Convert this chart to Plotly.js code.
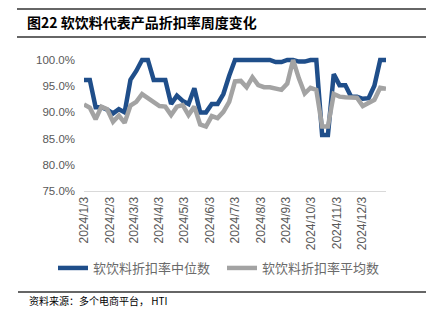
<!DOCTYPE html>
<html><head><meta charset="utf-8">
<script src="https://cdn.plot.ly/plotly-3.0.1.min.js"></script>
<style>html,body{margin:0;padding:0;background:#fff;}#chart{width:433px;height:322px;}</style>
</head><body><div id="chart"></div>
<script>
const dates = ["2024-01-03","2024-01-10","2024-01-17","2024-01-24","2024-01-31","2024-02-07","2024-02-14","2024-02-21","2024-02-28","2024-03-06","2024-03-13","2024-03-20","2024-03-27","2024-04-03","2024-04-10","2024-04-17","2024-04-24","2024-05-01","2024-05-08","2024-05-15","2024-05-22","2024-05-29","2024-06-05","2024-06-12","2024-06-19","2024-06-26","2024-07-03","2024-07-10","2024-07-17","2024-07-24","2024-07-31","2024-08-07","2024-08-14","2024-08-21","2024-08-28","2024-09-04","2024-09-11","2024-09-18","2024-09-25","2024-10-02","2024-10-09","2024-10-16","2024-10-23","2024-10-30","2024-11-06","2024-11-13","2024-11-20","2024-11-27","2024-12-04","2024-12-11","2024-12-18","2024-12-25","2025-01-01"];
const medianVals = [96.2,96.2,91.0,91.0,90.5,89.8,90.6,90.0,96.2,97.9,100,100,96.2,96.2,96.2,91.6,93.2,92.2,91.6,94.6,90.0,90.0,91.6,91.6,93.5,97.0,100,100,100,100,100,100,100,99.6,99.6,100,100,99.7,99.7,100,100,85.7,85.7,97.3,95.2,95.2,93.0,93.0,92.6,92.7,95.1,100,100];
const meanVals = [91.5,90.9,88.7,91.1,90.6,88.2,89.4,88.0,91.3,92.0,93.5,92.7,92.0,91.2,91.1,89.5,91.1,91.4,89.5,91.1,87.7,87.3,89.3,88.9,90.1,92.0,95.9,96.0,94.8,96.7,95.2,94.8,94.8,94.6,94.3,95.5,100,96.5,93.6,94.7,94.3,87.3,87.3,93.5,93.0,92.9,92.9,92.8,91.2,91.7,92.4,94.7,94.5];
const seriesNames = ["软饮料折扣率中位数","软饮料折扣率平均数"];
const tickDates = ["2024-01-03","2024-02-03","2024-03-03","2024-04-03","2024-05-03","2024-06-03","2024-07-03","2024-08-03","2024-09-03","2024-10-03","2024-11-03","2024-12-03"];
const tickLabels = ["2024/1/3","2024/2/3","2024/3/3","2024/4/3","2024/5/3","2024/6/3","2024/7/3","2024/8/3","2024/9/3","2024/10/3","2024/11/3","2024/12/3"];
const yTickVals = [75,80,85,90,95,100];
const yTickText = ["75.0%","80.0%","85.0%","90.0%","95.0%","100.0%"];
const titleText = "图22 软饮料代表产品折扣率周度变化";
const sourceText = "资料来源：多个电商平台， HTI";

const cjk = '"Noto Sans CJK SC", "Noto Sans", sans-serif';
const L = 84, R = 47, T = 55, B = 131, W = 433, H = 322;
const pw = W - L - R, ph = H - T - B;
const px = x => (x - L) / pw;
const py = y => (H - B - y) / ph;

const traces = [
  {x: dates, y: medianVals, name: seriesNames[0], type: 'scatter', mode: 'lines', legend: 'legend',
   line: {color: '#1f4e8a', width: 4.5}},
  {x: dates, y: meanVals, name: seriesNames[1], type: 'scatter', mode: 'lines', legend: 'legend2',
   line: {color: '#a3a3a3', width: 4.5}}
];

const legendBase = {orientation: 'h', xref: 'container', yref: 'container', xanchor: 'left',
  y: 1 - 268 / H, yanchor: 'middle', font: {family: cjk, size: 13, color: '#6a6a6a'},
  bgcolor: 'rgba(0,0,0,0)', itemclick: false};

const layout = {
  width: W, height: H,
  margin: {l: L, r: R, t: T, b: B, pad: 0},
  paper_bgcolor: '#fff', plot_bgcolor: '#fff',
  showlegend: true,
  title: {text: '<b>' + titleText + '</b>', x: 27 / W, xanchor: 'left', xref: 'container',
          y: 1 - 23 / H, yanchor: 'middle', yref: 'container',
          font: {family: cjk, size: 14, color: '#000'}},
  xaxis: {type: 'date', range: ['2024-01-03', '2025-01-01'], tickvals: tickDates, ticktext: tickLabels,
          tickangle: -90, showgrid: false, zeroline: false, showline: true, linecolor: '#d9d9d9', linewidth: 1,
          ticks: '', tickfont: {family: 'Liberation Sans, Arial, sans-serif', size: 12, color: '#595959'},
          fixedrange: true},
  yaxis: {range: [75, 100.95], tickvals: yTickVals, ticktext: yTickText, showgrid: false, zeroline: false,
          showline: false, ticks: '', ticklabelstandoff: 8,
          tickfont: {family: 'Liberation Sans, Arial, sans-serif', size: 11.5, color: '#595959'}, fixedrange: true},
  legend: Object.assign({}, legendBase, {x: 53 / W}),
  legend2: Object.assign({}, legendBase, {x: 222 / W}),
  shapes: [
    {type: 'line', xref: 'paper', yref: 'paper', x0: px(17), x1: px(426), y0: py(9), y1: py(9), line: {color: '#333', width: 1.5}},
    {type: 'line', xref: 'paper', yref: 'paper', x0: px(17), x1: px(426), y0: py(37), y1: py(37), line: {color: '#333', width: 1.5}},
    {type: 'line', xref: 'paper', yref: 'paper', x0: px(18), x1: px(426), y0: py(292), y1: py(292), line: {color: '#333', width: 1.5}}
  ],
  annotations: [
    {text: sourceText, xref: 'paper', yref: 'paper', x: px(27), y: py(300), xanchor: 'left', yanchor: 'middle',
     showarrow: false, font: {family: cjk, size: 10, color: '#000'}}
  ]
};
Plotly.newPlot('chart', traces, layout, {displayModeBar: false, staticPlot: true});
</script></body></html>
